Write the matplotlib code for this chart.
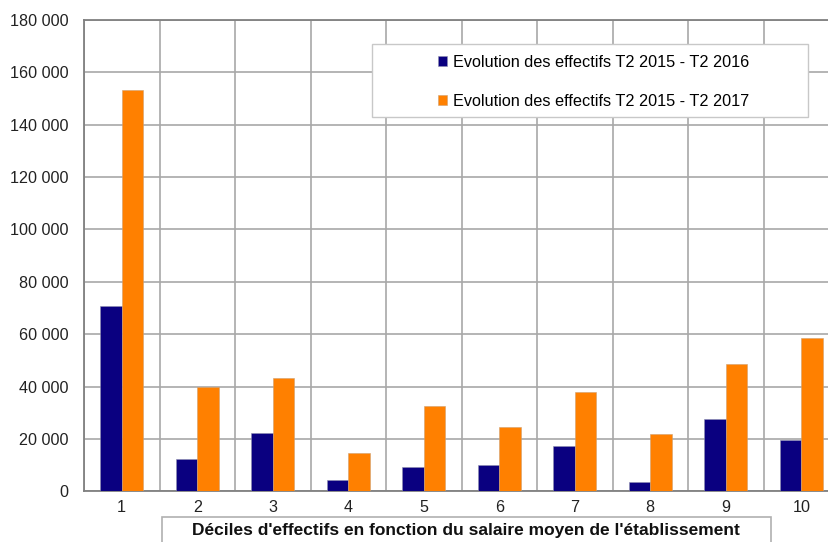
import numpy as np
import matplotlib.pyplot as plt
from matplotlib.patches import Rectangle

plt.rcParams['font.family'] = ['Liberation Sans', 'DejaVu Sans']

# Données
deciles = ['1', '2', '3', '4', '5', '6', '7', '8', '9', '10']
evol_2016 = [70800, 12200, 22200, 4300, 9400, 10000, 17300, 3400, 27500, 19600]
evol_2017 = [153300, 39700, 43400, 14700, 32600, 24600, 38100, 21900, 48600, 58400]
label_2016 = 'Evolution des effectifs T2 2015 - T2 2016'
label_2017 = 'Evolution des effectifs T2 2015 - T2 2017'
titre_x = "Déciles d'effectifs en fonction du salaire moyen de l'établissement"

W, H = 829, 542
fig = plt.figure(figsize=(W / 100, H / 100), dpi=100)
ax = fig.add_axes([84 / W, 1 - 491.3 / H, 755 / W, (491.3 - 20) / H])

x = np.arange(1, len(deciles) + 1)
largeur = 0.285
ax.bar(x - largeur / 2, evol_2016, largeur, color='#0a0080', edgecolor='#9090b0', linewidth=0.4,
       label=label_2016, zorder=3)
ax.bar(x + largeur / 2, evol_2017, largeur, color='#ff8000', edgecolor='#d0a070', linewidth=0.4,
       label=label_2017, zorder=3)

ax.set_xlim(0.5, len(deciles) + 0.5)
ax.set_ylim(0, 180000)
ax.set_yticks(np.arange(0, 180001, 20000))
ax.set_yticklabels([f'{v:,}'.replace(',', ' ') for v in range(0, 180001, 20000)])
ax.set_xticks(x)
ax.set_xticklabels(deciles)
ax.set_xticks(np.arange(0.5, len(deciles) + 1), minor=True)
ax.tick_params(axis='both', which='both', length=0, labelsize=11.6, colors='#222222')
ax.tick_params(axis='y', pad=11)
ax.tick_params(axis='x', pad=6)

ax.grid(True, axis='y', which='major', color='#a8a8a8', linewidth=1.2, zorder=0)
ax.grid(True, axis='x', which='minor', color='#a8a8a8', linewidth=1.2, zorder=0)
ax.set_axisbelow(True)
for s in ax.spines.values():
    s.set_color('#808080')
    s.set_linewidth(1.3)

# Cadre de la légende puis légende par-dessus
cadre = Rectangle((372 / W, 1 - 117 / H), 436 / W, 73 / H, transform=fig.transFigure,
                  facecolor='white', edgecolor='#c8c8c8', linewidth=1, zorder=4, clip_on=False)
ax.add_artist(cadre)
leg = ax.legend(loc='upper left', bbox_to_anchor=(438 / W, 1 - 55 / H), bbox_transform=fig.transFigure,
                frameon=False, fontsize=11.7, handlelength=0.55, handleheight=0.55,
                handletextpad=0.35, labelspacing=1.45, borderaxespad=0, borderpad=0)
leg.set_zorder(5)

# Titre de l'axe x dans un cadre
fig.patches.append(Rectangle((162 / W, -0.02), 609 / W, 1 - 517 / H + 0.02, transform=fig.transFigure,
                             facecolor='white', edgecolor='#b0b0b0', linewidth=1.2))
fig.text(466 / W, 1 - 531 / H, titre_x, ha='center', va='center', fontsize=12.5,
         fontweight='bold', color='#111111')

fig.savefig('out.png', dpi=100)
